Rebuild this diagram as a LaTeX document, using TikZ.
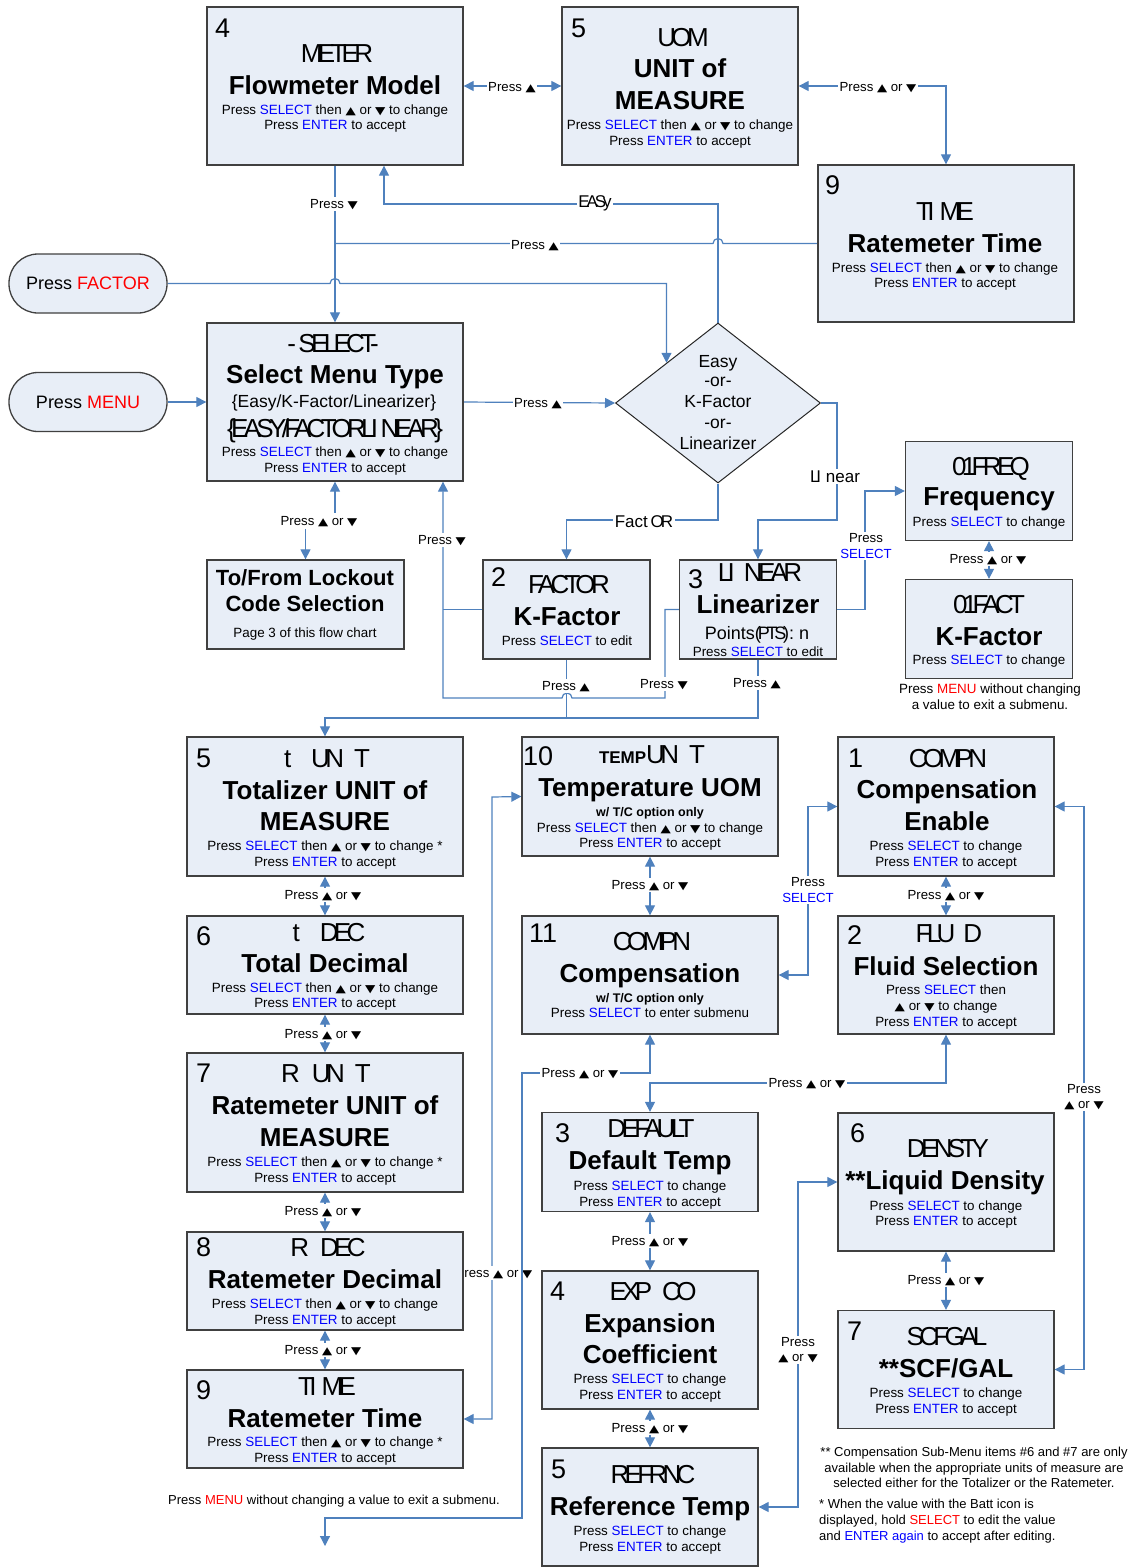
\documentclass[tikz,border=0pt]{standalone}
\usepackage{fontspec}
\setmainfont{Liberation Sans}
\newfontfamily\lcdfont[LetterSpace=-18]{Liberation Sans}
\newfontfamily\symfont{DejaVu Sans}
\usetikzlibrary{positioning,arrows.meta,backgrounds,shapes.geometric}

\definecolor{boxfill}{RGB}{232,238,247}
\definecolor{boxline}{RGB}{64,64,64}
\definecolor{linkblue}{RGB}{79,129,189}
\definecolor{keyblue}{RGB}{0,0,255}
\definecolor{keyred}{RGB}{255,0,0}

\newcommand{\sel}{\textcolor{keyblue}{SELECT}}
\newcommand{\ent}{\textcolor{keyblue}{ENTER}}
\newcommand{\arrup}{{\symfont\scalebox{1}[0.8]{▲}}}
\newcommand{\arrdn}{{\symfont\scalebox{1}[0.8]{▼}}}
\newcommand{\lcd}[1]{{\lcdfont #1}}

\tikzset{
  menubox/.style={draw=boxline, fill=boxfill, line width=1.3pt, inner sep=0pt},
  pressbtn/.style={draw=boxline, fill=boxfill, line width=1.3pt, rounded corners=29pt,
    minimum width=158pt, minimum height=59pt, font=\fontsize{18}{20}\selectfont},
  decision/.style={diamond, draw=black!85, fill=boxfill, line width=1pt,
    minimum width=205pt, minimum height=160pt, inner sep=0pt},
  link/.style={draw=linkblue, line width=1.2pt},
  num/.style={anchor=base west, inner sep=0pt, font=\fontsize{27}{30}\selectfont},
  lcdline/.style={anchor=base, inner sep=0pt, font=\fontsize{26}{30}\selectfont},
  ttl/.style={anchor=base, inner sep=0pt, font=\fontsize{26}{30}\selectfont\bfseries},
  midline/.style={anchor=base, inner sep=0pt, font=\fontsize{17.5}{21}\selectfont},
  ins/.style={anchor=base, inner sep=0pt, font=\fontsize{13.4}{16}\selectfont},
  foot/.style={anchor=base, inner sep=0pt, font=\fontsize{13}{16}\selectfont},
  tcnote/.style={anchor=base, inner sep=0pt, font=\fontsize{12.5}{15}\selectfont\bfseries},
  lbl/.style={anchor=base, fill=white, inner sep=1.5pt, font=\fontsize{13.2}{16}\selectfont},
  lbltwo/.style={align=center, fill=white, inner sep=1.5pt, font=\fontsize{13.2}{15.5}\selectfont},
}

\begin{document}
\begin{tikzpicture}[x=1pt, y=-1pt, >={Triangle[width=10pt,length=10pt]}]
\useasboundingbox (0,0) rectangle (1133,1567);

% ---- top part
\node[menubox, minimum width=256pt, minimum height=158pt] (meter) at (335,86) {};
\node[num] (meter-n) at (215,37) {4};
\node[lcdline] (meter-l) at (337,62) {\lcd{METER}};
\node[ttl] (meter-t) at (335,94) {Flowmeter Model};
\node[ins] (meter-i1) at (335,114) {Press \sel{} then \arrup{} or \arrdn{} to change};
\node[ins] (meter-i2) at (335,129.5) {Press \ent{} to accept};

\node[menubox, minimum width=236pt, minimum height=158pt] (uom) at (680,86) {};
\node[num] (uom-n) at (571,37) {5};
\node[lcdline] (uom-l) at (683,46) {\lcd{UOM}};
\node[ttl] (uom-t1) at (680,77) {UNIT of};
\node[ttl] (uom-t2) at (680,109) {MEASURE};
\node[ins] (uom-i1) at (680,129) {Press \sel{} then \arrup{} or \arrdn{} to change};
\node[ins] (uom-i2) at (680,145) {Press \ent{} to accept};

\node[menubox, minimum width=256pt, minimum height=157pt] (timea) at (946,243.5) {};
\node[num] (timea-n) at (825,194) {9};
\node[lcdline] (timea-l) at (945,220) {\lcd{TI\hspace{5pt}ME}};
\node[ttl] (timea-t) at (945,252) {Ratemeter Time};
\node[ins] (timea-i1) at (945,272) {Press \sel{} then \arrup{} or \arrdn{} to change};
\node[ins] (timea-i2) at (945,287) {Press \ent{} to accept};

\node[pressbtn] (factorbtn) at (88,283.5) {Press \textcolor{keyred}{FACTOR}};
\node[pressbtn] (menubtn) at (88,402) {Press \textcolor{keyred}{MENU}};

\node[menubox, minimum width=256pt, minimum height=158pt] (select) at (335,402) {};
\node[lcdline] (select-l1) at (333,352) {\lcd{- SELECT-}};
\node[ttl] (select-t) at (335,383) {Select Menu Type};
\node[midline] (select-m) at (334,407) {\{Easy/K-Factor/Linearizer\}};
\node[lcdline] (select-l2) at (335,437) {\lcd{\{EASY/FACTORLI NEAR\}}};
\node[ins] (select-i1) at (335,456) {Press \sel{} then \arrup{} or \arrdn{} to change};
\node[ins] (select-i2) at (335,472) {Press \ent{} to accept};

\node[decision] (diam) at (718,403) {};
\node[midline] (diam-1) at (718,367) {Easy};
\node[midline] (diam-2) at (718,386) {-or-};
\node[midline] (diam-3) at (718,407) {K-Factor};
\node[midline] (diam-4) at (718,428) {-or-};
\node[midline] (diam-5) at (718,449) {Linearizer};

\node[menubox, minimum width=197pt, minimum height=89pt] (lockout) at (305.5,604.5) {};
\node[ttl, font=\fontsize{22}{26}\selectfont\bfseries] (lockout-t1) at (305,585) {To/From Lockout};
\node[ttl, font=\fontsize{22}{26}\selectfont\bfseries] (lockout-t2) at (305,611) {Code Selection};
\node[ins] (lockout-i) at (305,637) {Page 3 of this flow chart};

\node[menubox, minimum width=167pt, minimum height=99pt] (kfactor) at (566.5,609.5) {};
\node[num] (kfactor-n) at (491,586) {2};
\node[lcdline] (kfactor-l) at (569,593) {\lcd{FACTOR}};
\node[ttl] (kfactor-t) at (567,625) {K-Factor};
\node[ins] (kfactor-i) at (567,645) {Press \sel{} to edit};

\node[menubox, minimum width=157pt, minimum height=99pt] (linear) at (758,609.5) {};
\node[num] (linear-n) at (688,588) {3};
\node[lcdline] (linear-l) at (760,581) {\lcd{LI\hspace{9pt}NEAR}};
\node[ttl] (linear-t) at (758,613) {Linearizer};
\node[midline, font=\fontsize{18}{21}\selectfont] (linear-m) at (757,639) {Points\lcd{(PTS)}: n};
\node[ins] (linear-i) at (758,656) {Press \sel{} to edit};

\node[menubox, minimum width=167pt, minimum height=99pt] (freq) at (989,491) {};
\node[lcdline] (freq-l) at (991,475) {\lcd{01FREQ}};
\node[ttl] (freq-t) at (989,505) {Frequency};
\node[ins] (freq-i) at (989,526) {Press \sel{} to change};

\node[menubox, minimum width=167pt, minimum height=99pt] (fact) at (989,629) {};
\node[lcdline] (fact-l) at (989,613) {\lcd{01FACT}};
\node[ttl] (fact-t) at (989,645) {K-Factor};
\node[ins] (fact-i) at (989,664) {Press \sel{} to change};
\node[ins] (fact-note1) at (990,693) {Press \textcolor{keyred}{MENU} without changing};
\node[ins] (fact-note2) at (990,709) {a value to exit a submenu.};

% ---- left column
\node[menubox, minimum width=276pt, minimum height=139pt] (tunit) at (325,806.5) {};
\node[num] (tunit-n) at (196,767) {5};
\node[lcdline] (tunit-l) at (327,767) {\lcd{t\hspace{20pt}UN\hspace{10pt}T}};
\node[ttl] (tunit-t1) at (325,799) {Totalizer UNIT of};
\node[ttl] (tunit-t2) at (325,830) {MEASURE};
\node[ins] (tunit-i1) at (325,850) {Press \sel{} then \arrup{} or \arrdn{} to change *};
\node[ins] (tunit-i2) at (325,866) {Press \ent{} to accept};

\node[menubox, minimum width=276pt, minimum height=98pt] (tdec) at (325,965) {};
\node[num] (tdec-n) at (196,945) {6};
\node[lcdline] (tdec-l) at (329,941) {\lcd{t\hspace{20pt}DEC}};
\node[ttl] (tdec-t) at (325,972) {Total Decimal};
\node[ins] (tdec-i1) at (325,992) {Press \sel{} then \arrup{} or \arrdn{} to change};
\node[ins] (tdec-i2) at (325,1007) {Press \ent{} to accept};

\node[menubox, minimum width=276pt, minimum height=139pt] (runit) at (325,1122.5) {};
\node[num] (runit-n) at (196,1082) {7};
\node[lcdline] (runit-l) at (326,1082) {\lcd{R\hspace{12pt}UN\hspace{10pt}T}};
\node[ttl] (runit-t1) at (325,1114) {Ratemeter UNIT of};
\node[ttl] (runit-t2) at (325,1146) {MEASURE};
\node[ins] (runit-i1) at (325,1166) {Press \sel{} then \arrup{} or \arrdn{} to change *};
\node[ins] (runit-i2) at (325,1182) {Press \ent{} to accept};

\node[menubox, minimum width=276pt, minimum height=98pt] (rdec) at (325,1281) {};
\node[num] (rdec-n) at (196,1256) {8};
\node[lcdline] (rdec-l) at (328,1256) {\lcd{R\hspace{11pt}DEC}};
\node[ttl] (rdec-t) at (325,1288) {Ratemeter Decimal};
\node[ins] (rdec-i1) at (325,1308) {Press \sel{} then \arrup{} or \arrdn{} to change};
\node[ins] (rdec-i2) at (325,1324) {Press \ent{} to accept};

\node[menubox, minimum width=276pt, minimum height=98pt] (timeb) at (325,1419) {};
\node[num] (timeb-n) at (196,1399) {9};
\node[lcdline] (timeb-l) at (327,1395) {\lcd{TI\hspace{5pt}ME}};
\node[ttl] (timeb-t) at (325,1427) {Ratemeter Time};
\node[ins] (timeb-i1) at (325,1446) {Press \sel{} then \arrup{} or \arrdn{} to change *};
\node[ins] (timeb-i2) at (325,1462) {Press \ent{} to accept};
\node[foot] (timeb-note) at (334,1504) {Press \textcolor{keyred}{MENU} without changing a value to exit a submenu.};

% ---- middle column
\node[menubox, minimum width=256pt, minimum height=119pt] (temp) at (650,796.5) {};
\node[num] (temp-n) at (523,765) {10};
\node[lcdline] (temp-l) at (652,763) {{\fontsize{17}{20}\selectfont\bfseries TEMP}\lcd{UN\hspace{10pt}T}};
\node[ttl] (temp-t) at (650,796) {Temperature UOM};
\node[tcnote] (temp-o) at (650,816) {w/ T/C option only};
\node[ins] (temp-i1) at (650,832) {Press \sel{} then \arrup{} or \arrdn{} to change};
\node[ins] (temp-i2) at (650,847) {Press \ent{} to accept};

\node[menubox, minimum width=256pt, minimum height=118pt] (compn) at (650,975) {};
\node[num] (compn-n) at (529,942) {11};
\node[lcdline] (compn-l) at (652,950) {\lcd{COMPN}};
\node[ttl] (compn-t) at (650,982) {Compensation};
\node[tcnote] (compn-o) at (650,1002) {w/ T/C option only};
\node[ins] (compn-i) at (650,1017) {Press \sel{} to enter submenu};

\node[menubox, minimum width=216pt, minimum height=99pt] (default) at (650,1162) {};
\node[num] (default-n) at (555,1142) {3};
\node[lcdline] (default-l) at (651,1137) {\lcd{DEFAULT}};
\node[ttl] (default-t) at (650,1169) {Default Temp};
\node[ins] (default-i1) at (650,1190) {Press \sel{} to change};
\node[ins] (default-i2) at (650,1206) {Press \ent{} to accept};

\node[menubox, minimum width=216pt, minimum height=138pt] (expco) at (650,1340) {};
\node[num] (expco-n) at (550,1300) {4};
\node[lcdline] (expco-l) at (653,1300) {\lcd{EXP\hspace{10pt}CO}};
\node[ttl] (expco-t1) at (650,1332) {Expansion};
\node[ttl] (expco-t2) at (650,1363) {Coefficient};
\node[ins] (expco-i1) at (650,1383) {Press \sel{} to change};
\node[ins] (expco-i2) at (650,1399) {Press \ent{} to accept};

\node[menubox, minimum width=216pt, minimum height=118pt] (refrnc) at (650,1507) {};
\node[num] (refrnc-n) at (551,1478) {5};
\node[lcdline] (refrnc-l) at (653,1483) {\lcd{REFRNC}};
\node[ttl] (refrnc-t) at (650,1515) {Reference Temp};
\node[ins] (refrnc-i1) at (650,1535) {Press \sel{} to change};
\node[ins] (refrnc-i2) at (650,1551) {Press \ent{} to accept};

% ---- right column
\node[menubox, minimum width=216pt, minimum height=139pt] (compe) at (946,806.5) {};
\node[num] (compe-n) at (848,767) {1};
\node[lcdline] (compe-l) at (948,767) {\lcd{COMPN}};
\node[ttl] (compe-t1) at (947,798) {Compensation};
\node[ttl] (compe-t2) at (947,830) {Enable};
\node[ins] (compe-i1) at (946,850) {Press \sel{} to change};
\node[ins] (compe-i2) at (946,866) {Press \ent{} to accept};

\node[menubox, minimum width=216pt, minimum height=118pt] (fluid) at (946,975) {};
\node[num] (fluid-n) at (847,944) {2};
\node[lcdline] (fluid-l) at (949,942) {\lcd{FLU\hspace{8pt}D}};
\node[ttl] (fluid-t) at (946,975) {Fluid Selection};
\node[ins] (fluid-i1) at (946,994) {Press \sel{} then};
\node[ins] (fluid-i2) at (946,1010) {\arrup{} or \arrdn{} to change};
\node[ins] (fluid-i3) at (946,1026) {Press \ent{} to accept};

\node[menubox, minimum width=216pt, minimum height=138pt] (densty) at (946,1182) {};
\node[num] (densty-n) at (850,1142) {6};
\node[lcdline] (densty-l) at (948,1157) {\lcd{DENSTY}};
\node[ttl] (densty-t) at (945,1189) {**Liquid Density};
\node[ins] (densty-i1) at (946,1210) {Press \sel{} to change};
\node[ins] (densty-i2) at (946,1225) {Press \ent{} to accept};

\node[menubox, minimum width=216pt, minimum height=118pt] (scfgal) at (946,1369.5) {};
\node[num] (scfgal-n) at (847,1340) {7};
\node[lcdline] (scfgal-l) at (947,1345) {\lcd{SCFGAL}};
\node[ttl] (scfgal-t) at (946,1377) {**SCF/GAL};
\node[ins] (scfgal-i1) at (946,1397) {Press \sel{} to change};
\node[ins] (scfgal-i2) at (946,1413) {Press \ent{} to accept};

% ---- footnotes
\node[foot] (foot1a) at (974,1456) {** Compensation Sub-Menu items \#6 and \#7 are only};
\node[foot] (foot1b) at (974,1472) {available when the appropriate units of measure are};
\node[foot] (foot1c) at (974,1487) {selected either for the Totalizer or the Ratemeter.};
\node[foot, anchor=base west] (foot2a) at (819,1508) {* When the value with the Batt icon is};
\node[foot, anchor=base west] (foot2b) at (819,1524) {displayed, hold \textcolor{keyred}{SELECT} to edit the value};
\node[foot, anchor=base west] (foot2c) at (819,1540) {and \textcolor{keyblue}{ENTER again} to accept after editing.};

% ---- connectors, under the boxes
\begin{pgfonlayer}{background}
\draw[link,<->] (meter.east) -- (uom.west);
\draw[link,<->] (uom.east) -| (timea.north);
\draw[link,->] (meter.south) -- (select.north);
\draw[link,->] (diam.north) |- (384,204) -- ([xshift=49pt]meter.south);
\draw[link] (timea.west) -- (723,243.5) arc[start angle=0, end angle=180, radius=5pt] -- (335,243.5);
\draw[link,->] (factorbtn.east) -- (330,283.5) arc[start angle=180, end angle=0, radius=5pt] -| (diam.north west);
\draw[link,->] (menubtn.east) -- (select.west);
\draw[link,->] (select.east) -- (diam.west);
\draw[link,->] (diam.south) -- (718,520) -| (kfactor.north);
\draw[link,->] (diam.east) -| (837,520) -| (linear.north);
\draw[link,<->] (select.south) -- (335,521) -| (lockout.north);
\draw[link,->] (linear.west) -- (665,609.5) -- (665,698) -- (572,698) arc[start angle=0, end angle=180, radius=5pt] -- (443,698) -- ([xshift=108pt]select.south);
\draw[link] (kfactor.west) -- (443,609.5);
\draw[link] (kfactor.south) -- (566.5,718);
\draw[link,->] (linear.south) -- (758,718) -| (tunit.north);
\draw[link,->] (linear.east) -- (865,609.5) |- (freq.west);
\draw[link,<->] (freq.south) -- (fact.north);
\draw[link,<->] (tunit.south) -- (tdec.north);
\draw[link,<->] (tdec.south) -- (runit.north);
\draw[link,<->] (runit.south) -- (rdec.north);
\draw[link,<->] (rdec.south) -- (timeb.north);
\draw[link,<->] (timeb.east) -| (492,797) -- (temp.west);
\node[lbl] (side-l) at (494,1277) {Press \arrup{} or \arrdn};
\coordinate (exit) at (325,1546);
\draw[link,<->] (compn.south) -- (650,1073) -| (522,1518) -| (exit);
\draw[link,<->] (temp.south) -- (compn.north);
\draw[link,<->] (compn.east) -| (808,806.5) -- (compe.west);
\draw[link,<->] (compe.south) -- (fluid.north);
\draw[link,<->] (fluid.south) -- (946,1083) -| (default.north);
\draw[link,<->] (default.south) -- (expco.north);
\draw[link,<->] (expco.south) -- (refrnc.north);
\draw[link,<->] (refrnc.east) -| (798,1182) -- (densty.west);
\draw[link,<->] (densty.south) -- (scfgal.north);
\draw[link,<->] (compe.east) -| (1084,1369.5) -- (scfgal.east);
\end{pgfonlayer}

% ---- connector labels
\node[lbl] (l-mu) at (512,91) {Press \arrup};
\node[lbl] (l-ut) at (878,91) {Press \arrup{} or \arrdn};
\node[lbl] (l-ms) at (334,208) {Press \arrdn};
\node[lbl, font=\fontsize{17}{20}\selectfont] (l-easy) at (595,207) {\lcd{EASy}};
\node[lbl] (l-ts) at (535,249) {Press \arrup};
\node[lbl] (l-sd) at (538,407) {Press \arrup};
\node[lbl, font=\fontsize{17}{20}\selectfont] (l-fact) at (644,527) {Fact\,\lcd{OR}};
\node[lbl, font=\fontsize{17}{20}\selectfont] (l-lin) at (835,482) {\lcd{LI} near};
\node[lbl, inner sep=3pt] (l-lock) at (319,525) {Press \arrup{} or \arrdn};
\node[lbl] (l-kf) at (442,544) {Press \arrdn};
\node[lbl] (l-ln) at (664,688) {Press \arrdn};
\node[lbl] (l-kd) at (566,690) {Press \arrup};
\node[lbl] (l-lu) at (757,687) {Press \arrup};
\node[lbltwo] (l-lsel) at (866,546) {Press\\\textcolor{keyblue}{SELECT}};
\node[lbl] (l-ff) at (988,563) {Press \arrup{} or \arrdn};
\node[lbl] (l-c1) at (323,899) {Press \arrup{} or \arrdn};
\node[lbl] (l-c2) at (323,1038) {Press \arrup{} or \arrdn};
\node[lbl] (l-c3) at (323,1215) {Press \arrup{} or \arrdn};
\node[lbl] (l-c4) at (323,1354) {Press \arrup{} or \arrdn};
\node[lbl] (l-tc) at (650,889) {Press \arrup{} or \arrdn};
\node[lbl] (l-cb) at (580,1077) {Press \arrup{} or \arrdn};
\node[lbltwo] (l-csel) at (808,890) {Press\\\textcolor{keyblue}{SELECT}};
\node[lbl] (l-ef) at (946,899) {Press \arrup{} or \arrdn};
\node[lbl] (l-fd) at (807,1087) {Press \arrup{} or \arrdn};
\node[lbl] (l-de) at (650,1245) {Press \arrup{} or \arrdn};
\node[lbl] (l-er) at (650,1432) {Press \arrup{} or \arrdn};
\node[lbltwo] (l-rd) at (798,1350) {Press\\\arrup{} or \arrdn};
\node[lbl] (l-ds) at (946,1284) {Press \arrup{} or \arrdn};
\node[lbltwo] (l-cs) at (1084,1097) {Press\\\arrup{} or \arrdn};
\end{tikzpicture}
\end{document}
